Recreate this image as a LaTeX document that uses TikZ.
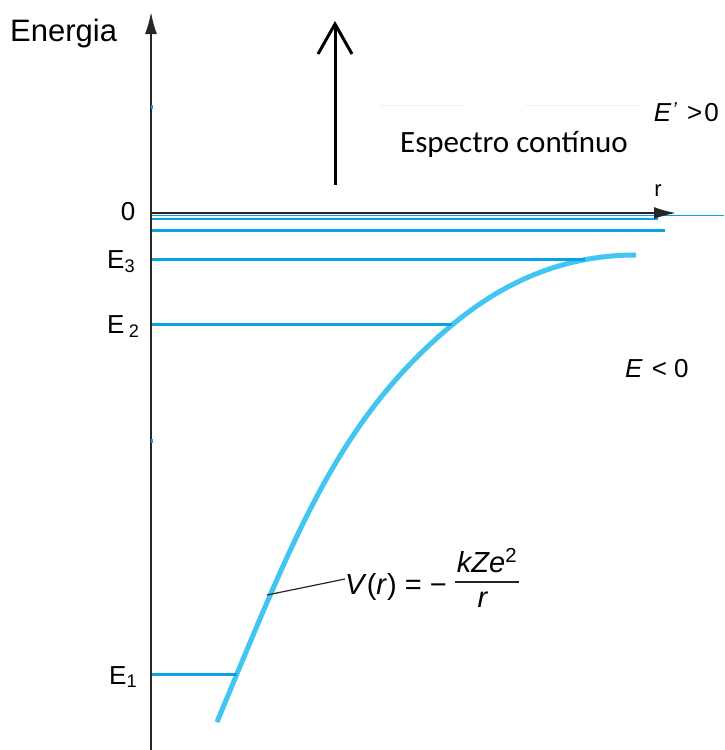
\documentclass[tikz,border=0pt]{standalone}
\usepackage{fontspec}
\setmainfont{Liberation Sans}
\newfontfamily\carlito{Carlito}
\usetikzlibrary{arrows.meta}
\definecolor{curveblue}{HTML}{40C6F0}
\definecolor{levelblue}{HTML}{0AA2E2}
\definecolor{faintblue}{HTML}{EAF4F8}
\begin{document}
\begin{tikzpicture}[x=1pt,y=-1pt,
  axisline/.style={line width=2pt,draw=black!85,-{Latex[length=22pt,width=12pt]}},
  levelline/.style={draw=levelblue,line width=3pt},
  thinlevel/.style={draw=levelblue,line width=1.1pt},
  lbl/.style={font=\fontsize{26}{30}\selectfont,inner sep=0pt},
  fml/.style={font=\fontsize{29}{33}\selectfont,inner sep=0pt},
  potcurve/.style={draw=curveblue,line width=5pt},
  leader/.style={draw=black!85,line width=1.2pt}]
\useasboundingbox (0,0) rectangle (724,750);
\fill[white] (0,0) rectangle (724,750);

% faint artifact lines
\draw[faintblue,line width=1pt] (380,105) -- (465,105) (525,105) -- (640,105);

% energy levels near zero
\coordinate (o) at (151,213);
\draw[thinlevel] (151,215.5) -- (724,215.5);
\draw[thinlevel] (151,219) -- (658,219);
\draw[levelline] (151,230.5) -- (665,230.5);

% potential curve
\coordinate (c0) at (217,722);
\coordinate (c1) at (452,325);
\coordinate (c2) at (636,255);
\draw[potcurve,line cap=butt] (c0) .. controls (294,537) and (337,421) .. (c1)
  .. controls (506,280) and (566,255) .. (c2);

% levels
\draw[levelline] (151,259.5) -- (585,259.5);
\draw[levelline] (151,324.5) -- (452,324.5);
\draw[levelline] (151,674.5) -- (237,674.5);

% axes
\coordinate (ybot) at (151,750);
\coordinate (ytop) at (151,12);
\coordinate (xend) at (676,213);
\draw[axisline] (ybot) -- (ytop);
\draw[axisline] (o) -- (xend);
% small blue ticks on axis
\draw[levelblue,line width=2pt] (152,105) -- (152,109) (152,439) -- (152,443);

% continuum arrow
\coordinate (cbot) at (335,185);
\coordinate (ctop) at (335,24);
\draw[black,line width=3pt] (cbot) -- (335,26);
\draw[black,line width=3pt,line join=miter] (318,54) -- (ctop) -- (352,54);

% labels
\node[font=\fontsize{31}{35}\selectfont,inner sep=0pt,anchor=base west] (energia) at (10,41) {Energia};
\node[lbl,anchor=base] (zero) at (128,220) {0};
\node[font=\fontsize{22}{26}\selectfont,inner sep=0pt,anchor=base] (rlab) at (658,196) {r};
\node[lbl,anchor=base west] (e3) at (107,268) {E\textsubscript{3}};
\node[lbl,anchor=base west] (e2) at (107,333) {E\,\textsubscript{2}};
\node[lbl,anchor=base west] (e1) at (109,684) {E\textsubscript{1}};
\node[font=\carlito\fontsize{31}{35}\selectfont,inner sep=0pt,anchor=base west] (espectro) at (400,152) {Espectro contínuo};
\node[lbl,anchor=base east] (epos) at (719,121) {\textit{E}\kern1pt\raisebox{5pt}{\fontsize{20}{20}\selectfont\textit{’}}\kern10pt{}>\kern2pt{}0};
\node[lbl,anchor=base west] (eneg) at (625,377) {\textit{E}\kern9pt{}< 0};

% formula
\node[fml,anchor=base west] (vr) at (345,594) {\textit{V}(\textit{r}) = −};
\node[fml,anchor=base] (num) at (487,572) {\textit{kZe}\textsuperscript{2}};
\node[fml,anchor=base] (den) at (483,607) {\textit{r}};
\draw[black!85,line width=1.5pt] (455,582) -- (519,582);
\coordinate (vtouch) at (267,595);
\draw[leader] (vtouch) -- (vr.west |- 0,579);
\end{tikzpicture}
\end{document}
